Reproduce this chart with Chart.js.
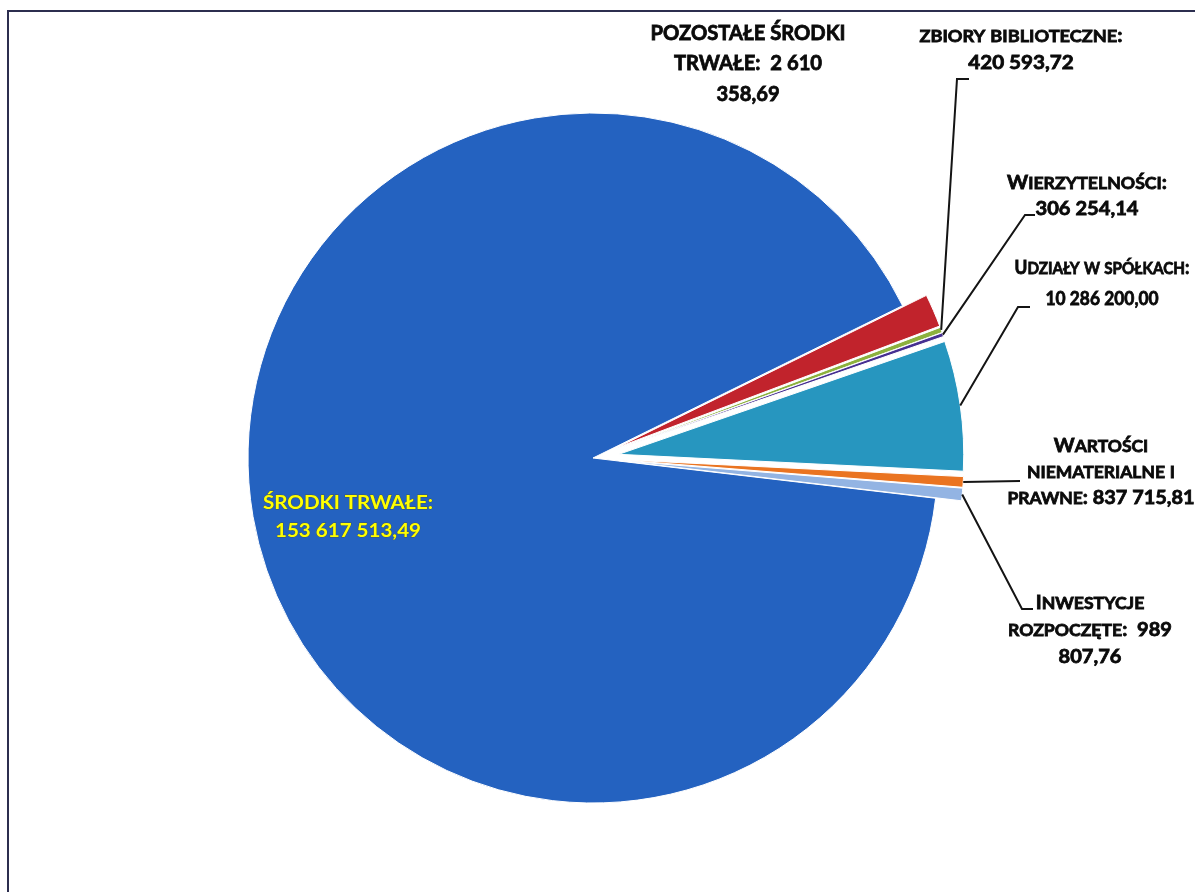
<!DOCTYPE html>
<html lang="pl">
<head>
<meta charset="utf-8">
<title>Struktura majątku</title>
<script src="https://cdn.jsdelivr.net/npm/chart.js@4.4.1/dist/chart.umd.min.js"></script>
<style>
  html, body { margin: 0; padding: 0; background: #fff; overflow: hidden; }
  #wrap { position: relative; width: 1195px; height: 892px; }
  #frame { position: absolute; left: 7px; top: 10px; right: -20px; bottom: -20px;
           border-left: 2px solid #2c2e4f; border-top: 2px solid #2c2e4f; }
  canvas { position: absolute; left: 0; top: 0; }
</style>
</head>
<body>
<div id="wrap">
  <div id="frame"></div>
  <canvas id="chart" width="1195" height="892"></canvas>
</div>
<script>
const categories = [
  'Środki trwałe',
  'Pozostałe środki trwałe',
  'Zbiory biblioteczne',
  'Wierzytelności',
  'Udziały w spółkach',
  'Wartości niematerialne i prawne',
  'Inwestycje rozpoczęte'
];
const values = [153617513.49, 2610358.69, 420593.72, 306254.14, 10286200.00, 837715.81, 989807.76];

// label text, line by line as it is broken in the original
// (lower case letters are printed as small capitals)
const labelLines = [
  ['ŚRODKI TRWAŁE:', '153 617 513,49'],
  ['POZOSTAŁE ŚRODKI', 'TRWAŁE:  2 610', '358,69'],
  ['zbiory biblioteczne:', '420 593,72'],
  ['Wierzytelności:', '306 254,14'],
  ['Udziały w spółkach:', '10 286 200,00'],
  ['Wartości', 'niematerialne i', 'prawne: 837 715,81'],
  ['Inwestycje', 'rozpoczęte:  989', '807,76']
];

const sliceColors = ['#2462c0', '#c1232c', '#8cb13d', '#462f91', '#2796bf', '#ea7421', '#93b4e3'];

// where the labels sit: centre x, middle of first line y, line step,
// font size, small caps, [line to fit, width], leader points after the slice edge
const labelLayout = [
  { cx: 348, y: 502, gap: 28, size: 19, caps: false, fit: [0, 170], color: '#ffff00' },
  { cx: 748, y: 32, gap: 30.5, size: 21, caps: false, fit: [0, 195] },
  { cx: 1021, y: 35, gap: 27, size: 19.5, caps: true, fit: [0, 203], leader: [[957, 79], [969, 79]] },
  { cx: 1087, y: 182, gap: 26, size: 19.5, caps: true, fit: [0, 160], leader: [[1025, 215], [1035, 215]] },
  { cx: 1102, y: 267, gap: 31, size: 19.5, caps: true, fit: [0, 175], leader: [[1018, 307], [1030, 307]] },
  { cx: 1101, y: 445, gap: 26, size: 19.5, caps: true, fit: [2, 187], leader: [[1020, 481]] },
  { cx: 1090, y: 602, gap: 27, size: 19.5, caps: true, fit: [1, 164], leader: [[1022, 609], [1033, 609]] }
];

const SMALL_CAPS = 0.88;
const EXPLODE = 26; // every slice but the big one is pulled out by this many px

const explodePlugin = {
  id: 'explode',
  afterDatasetUpdate(chart, args) {
    args.meta.data.forEach((arc, i) => {
      if (i === 0) return;
      const mid = (arc.startAngle + arc.endAngle) / 2;
      arc.x += Math.cos(mid) * EXPLODE;
      arc.y += Math.sin(mid) * EXPLODE;
    });
  }
};

function segments(line, size, caps) {
  const out = [];
  for (const ch of line) {
    const small = caps && ch !== ch.toUpperCase();
    const s = small ? size * SMALL_CAPS : size;
    const t = ch.toUpperCase();
    const last = out[out.length - 1];
    if (last && last.size === s) last.text += t;
    else out.push({ text: t, size: s });
  }
  return out;
}

function segWidth(ctx, segs) {
  let w = 0;
  segs.forEach(sg => {
    ctx.font = 'bold ' + sg.size + 'px Lato';
    w += ctx.measureText(sg.text).width;
  });
  return w;
}

function drawLabel(ctx, lines, lay) {
  const all = lines.map(l => segments(l, lay.size, lay.caps));
  const sx = lay.fit[1] / segWidth(ctx, all[lay.fit[0]]);
  const col = lay.color || '#0a0a0a';
  ctx.save();
  ctx.fillStyle = col;
  ctx.strokeStyle = lay.color ? 'rgba(90,80,0,0.55)' : col;
  ctx.lineWidth = 0.8;
  ctx.textAlign = 'left';
  ctx.textBaseline = 'alphabetic';
  all.forEach((segs, k) => {
    const w = segWidth(ctx, segs);
    const base = lay.y + k * lay.gap + lay.size * 0.36;
    ctx.save();
    ctx.translate(lay.cx, base);
    ctx.scale(sx, 1);
    let x = -w / 2;
    segs.forEach(sg => {
      ctx.font = 'bold ' + sg.size + 'px Lato';
      ctx.strokeText(sg.text, x, 0);
      ctx.fillText(sg.text, x, 0);
      x += ctx.measureText(sg.text).width;
    });
    ctx.restore();
  });
  ctx.restore();
}

const labelPlugin = {
  id: 'sliceLabels',
  afterDraw(chart) {
    const ctx = chart.ctx;
    const arcs = chart.getDatasetMeta(0).data;
    labelLayout.forEach((lay, i) => {
      const arc = arcs[i];
      if (lay.leader) {
        const mid = (arc.startAngle + arc.endAngle) / 2;
        const r = arc.outerRadius;
        ctx.save();
        ctx.beginPath();
        ctx.moveTo(arc.x + Math.cos(mid) * r, arc.y + Math.sin(mid) * r);
        lay.leader.forEach(p => ctx.lineTo(p[0], p[1]));
        ctx.strokeStyle = '#141414';
        ctx.lineWidth = 2;
        ctx.lineJoin = 'miter';
        ctx.stroke();
        ctx.restore();
      }
      drawLabel(ctx, labelLines[i], lay);
    });
  }
};

new Chart(document.getElementById('chart'), {
  type: 'pie',
  data: {
    labels: categories,
    datasets: [{
      data: values,
      backgroundColor: sliceColors,
      borderColor: '#ffffff',
      borderWidth: 1,
      hoverOffset: 0
    }]
  },
  options: {
    responsive: false,
    animation: false,
    events: [],
    rotation: 96.7,
    radius: 345,
    layout: { padding: { left: 0, right: 9, top: 24, bottom: 0 } },
    plugins: {
      legend: { display: false },
      tooltip: { enabled: false }
    }
  },
  plugins: [explodePlugin, labelPlugin]
});
</script>
</body>
</html>
